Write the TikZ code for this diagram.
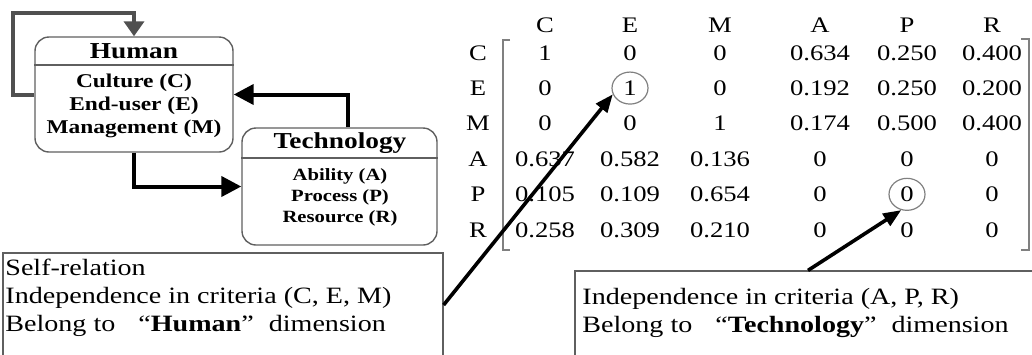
\documentclass[tikz,border=0pt]{standalone}
\usepackage{fontspec}
\setmainfont{Liberation Serif}[FakeStretch=1.2]
\usetikzlibrary{arrows.meta,shapes.geometric,positioning}
\definecolor{loopGray}{RGB}{80,80,80}
\definecolor{borderGray}{RGB}{95,95,95}
\tikzstyle{dimensionBox} = [draw=borderGray, line width=0.7pt, rounded corners=7pt, inner sep=0pt]
\tikzstyle{dimensionTitle} = [font=\fontsize{11.4}{13}\selectfont\bfseries, inner sep=0pt, anchor=base]
\tikzstyle{humanItem} = [font=\fontsize{9.75}{11}\selectfont\bfseries, inner sep=0pt, anchor=base]
\tikzstyle{techItem} = [font=\fontsize{8.6}{10}\selectfont\bfseries, inner sep=0pt, anchor=base]
\tikzstyle{flowArrow} = [line width=2pt, -{Triangle[length=10pt,width=10pt]}]
\tikzstyle{loopArrow} = [line width=2pt, draw=loopGray, -{Triangle[length=7.5pt,width=10pt]}]
\tikzstyle{matrixText} = [font=\fontsize{11.1}{13}\selectfont, inner sep=0pt, anchor=base]
\tikzstyle{bracketLine} = [draw=gray, line width=0.6pt]
\tikzstyle{ringMark} = [draw=gray, ellipse, minimum width=18pt, minimum height=16pt, inner sep=0pt, line width=0.6pt]
\tikzstyle{noteBox} = [draw=borderGray, line width=0.6pt, inner sep=0pt]
\tikzstyle{noteText} = [font=\fontsize{11.7}{14}\selectfont, align=left, inner sep=0pt, anchor=north west]
\tikzstyle{pointerArrow} = [line width=1.8pt, -{Triangle[length=9pt,width=7pt]}]

\begin{document}
\begin{tikzpicture}[x=0.5pt, y=-0.5pt]
  \clip (0,0) rectangle (1032,354);

  % dimension boxes
  \node[dimensionBox, minimum width=99pt, minimum height=57.5pt] (human) at (134,94.5) {};
  \draw[draw=borderGray, line width=0.7pt] (human.west |- 0,65) -- (human.east |- 0,65);
  \node[dimensionTitle] (humanTitle) at (134,58) {Human};
  \foreach \txt [count=\k] in {Culture (C),End-user (E),Management (M)}
    \node[humanItem] (humanItem\k) at (134,{64+23*\k}) {\txt};

  \node[dimensionBox, minimum width=97.5pt, minimum height=58.5pt] (tech) at (339.5,186.5) {};
  \draw[draw=borderGray, line width=0.7pt] (tech.west |- 0,158) -- (tech.east |- 0,158);
  \node[dimensionTitle] (techTitle) at (340,148) {Technology};
  \foreach \txt [count=\k] in {Ability (A),Process (P),Resource (R)}
    \node[techItem] (techItem\k) at (340,{159+21*\k}) {\txt};

  \draw[loopArrow] (human.west) -- (13,94.5) -- (13,13) -| (human.north);
  \draw[flowArrow] ([xshift=4pt]tech.north) |- (human.east);
  \draw[flowArrow] (human.south) |- (tech.west);

  % relation matrix
  \foreach \lab/\cx in {C/545,E/630,M/720,A/820,P/907,R/992}
    \node[matrixText] (head-\lab) at (\cx,32) {\lab};
  \foreach \lab [count=\i] in {C,E,M,A,P,R}
    \node[matrixText] (row-\lab) at (478,{60+35.4*(\i-1)}) {\lab};
  \foreach \rowVals [count=\i] in {{1,0,0,0.634,0.250,0.400},{0,1,0,0.192,0.250,0.200},{0,0,1,0.174,0.500,0.400},{0.637,0.582,0.136,0,0,0},{0.105,0.109,0.654,0,0,0},{0.258,0.309,0.210,0,0,0}} {
    \foreach \val [count=\j] in \rowVals {
      \pgfmathsetmacro{\cellX}{{545,630,720,820,907,992}[\j-1]}
      \node[matrixText] (m-\i-\j) at (\cellX,{60+35.4*(\i-1)}) {\val};
    }
  }
  \draw[bracketLine] (510,40) -- (503,40) -- (503,250) -- (510,250);
  \draw[bracketLine] (1021,39) -- (1029,39) -- (1029,250) -- (1021,250);

  \node[ringMark] (ringE) at (m-2-2) {};
  \node[ringMark] (ringP) at (m-5-5) {};

  % notes
  \node[noteBox, minimum width=220pt, minimum height=52pt] (selfNote) at (223,305) {};
  \node[noteText] (selfText) at (5,259) {Self-relation\\Independence in criteria (C, E, M)\\Belong to\hspace{8pt} “\textbf{Human}”\hspace{4pt} dimension};
  \node[noteBox, minimum width=233pt, minimum height=54.5pt] (techNote) at (808,325.5) {};
  \node[noteText] (techText) at (582,288) {Independence in criteria (A, P, R)\\Belong to\hspace{8pt} “\textbf{Technology}”\hspace{4pt} dimension};

  \draw[pointerArrow] (selfNote.east) -- (ringE.200);
  \draw[pointerArrow] (techNote.north) -- (ringP.250);
\end{tikzpicture}
\end{document}
